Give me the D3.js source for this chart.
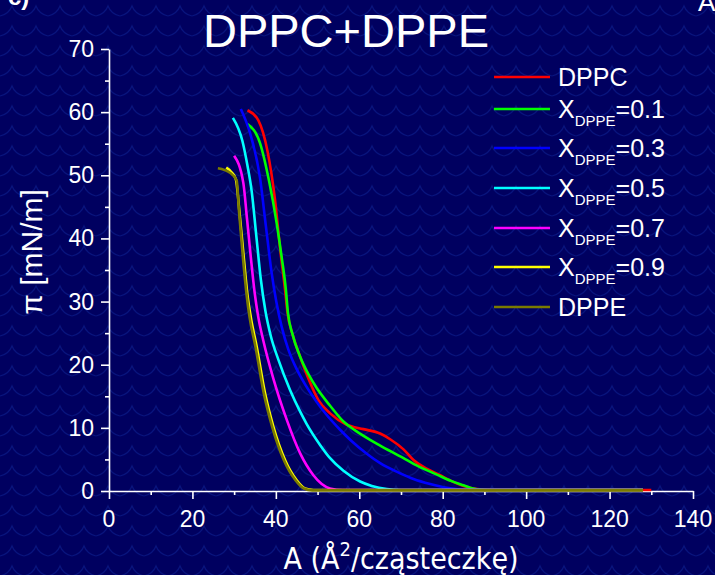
<!DOCTYPE html>
<html>
<head>
<meta charset="utf-8">
<script src="https://cdn.jsdelivr.net/npm/d3@7"></script>
<style>
  html, body { margin: 0; padding: 0; background: #000060; }
  svg { display: block; }
</style>
</head>
<body>
<svg id="chart" width="715" height="575"></svg>
<script>
// Surface pressure isotherms (π vs area per molecule) for DPPC/DPPE mixtures
const xTicks = [0, 20, 40, 60, 80, 100, 120, 140];
const yTicks = [0, 10, 20, 30, 40, 50, 60, 70];

const seriesNames = ["DPPC", "0.1", "0.3", "0.5", "0.7", "0.9", "DPPE"];
const seriesColors = ["#ff0000", "#00ff00", "#0000ff", "#00ffff", "#ff00ff", "#ffff00", "#7a7a00"];

// [A (Å²/molecule), π (mN/m)]
const dppc = [[33.2,60.3],[35.8,58.7],[38.0,53.8],[39.8,46.1],[41.0,38.5],[42.2,31.9],[42.8,28.2],[44.0,24.8],[45.8,21.3],[48.0,17.5],[50.2,14.4],[53.0,12.3],[57.0,10.5],[61.0,9.8],[65.0,9.1],[67.4,8.2],[70.6,6.6],[73.0,4.9],[76.0,3.6],[79.4,2.5],[82.0,1.6],[85.0,0.8],[88.2,0.3],[92.0,0.15],[130.0,0.15]];
const x01 = [[33.2,58.1],[36.2,55.1],[38.4,49.0],[40.2,42.4],[41.4,37.0],[42.4,31.9],[42.9,28.2],[44.0,24.8],[45.8,21.3],[47.8,18.5],[49.8,16.3],[53.0,13.5],[56.2,11.0],[59.0,9.6],[62.6,8.1],[65.0,7.2],[70.6,5.2],[73.0,4.3],[78.6,2.6],[82.0,1.6],[85.0,0.9],[87.0,0.45],[89.7,0.2],[92.0,0.15],[128.0,0.15]];
const x03 = [[31.6,60.5],[33.8,56.7],[36.2,49.6],[37.6,42.0],[39.0,34.5],[40.1,30.0],[41.4,26.0],[43.0,22.4],[45.0,19.3],[47.0,16.9],[49.8,14.1],[52.0,12.2],[55.4,9.7],[58.0,8.0],[61.8,5.9],[65.0,4.4],[69.8,2.8],[73.0,1.9],[77.0,1.1],[81.0,0.5],[86.0,0.2],[128.0,0.15]];
const x05 = [[29.7,59.1],[32.0,55.4],[33.2,51.5],[34.2,47.5],[35.3,40.5],[36.4,33.5],[37.5,28.5],[38.8,24.5],[40.6,20.8],[43.4,16.0],[45.8,12.6],[47.4,10.6],[50.6,7.3],[53.0,5.2],[56.2,3.2],[60.2,1.5],[63.0,0.8],[66.6,0.3],[70.0,0.15],[128.0,0.15]];
const x07 = [[30.0,53.1],[32.2,48.8],[33.1,43.0],[34.0,37.0],[34.9,31.5],[35.8,27.5],[37.0,23.8],[39.4,17.8],[42.6,11.3],[45.8,6.0],[49.0,2.5],[51.0,1.1],[53.0,0.4],[56.0,0.15],[128.0,0.15]];
const x09 = [[28.1,51.2],[29.2,50.6],[30.4,49.4],[31.3,44.0],[32.3,37.0],[33.2,31.0],[34.0,27.5],[35.4,22.9],[37.4,15.5],[39.4,10.2],[42.2,4.9],[45.0,1.7],[47.0,0.4],[49.0,0.15],[128.0,0.15]];
const dppe = [[26.1,51.1],[29.0,50.4],[30.6,49.2],[31.2,44.0],[32.1,37.0],[33.0,31.0],[33.7,27.5],[35.1,22.9],[37.1,15.5],[39.1,10.2],[41.9,4.9],[44.7,1.7],[46.7,0.4],[48.7,0.1],[128.0,0.1]];

const seriesData = [dppc, x01, x03, x05, x07, x09, dppe];

const svg = d3.select("#chart");
const W = 715, H = 575;

// Background with a faint scalloped texture
const defs = svg.append("defs");
const pat = defs.append("pattern")
  .attr("id", "scales").attr("patternUnits", "userSpaceOnUse")
  .attr("width", 24).attr("height", 20);
pat.append("rect").attr("width", 24).attr("height", 20).attr("fill", "#000060");
pat.append("path")
  .attr("d", "M0,16 Q9,14 12,6 Q15,14 24,16")
  .attr("fill", "none").attr("stroke", "#08147e").attr("stroke-width", 1.2);
svg.append("rect").attr("width", W).attr("height", H).attr("fill", "url(#scales)");

const x = d3.scaleLinear().domain([0, 140]).range([109, 693]);
const y = d3.scaleLinear().domain([0, 70]).range([491, 49]);

const font = "'Liberation Sans', Arial, sans-serif";

// Axes
const xAxis = svg.append("g").attr("transform", `translate(0,${y(0)})`)
  .call(d3.axisBottom(x).tickValues(d3.range(0, 141, 10)).tickSize(0).tickFormat(""));
const yAxis = svg.append("g").attr("transform", `translate(${x(0)},0)`)
  .call(d3.axisLeft(y).tickValues(d3.range(0, 71, 5)).tickSize(0).tickFormat(""));
[xAxis, yAxis].forEach(g => {
  g.select(".domain").attr("stroke", "#ffffff").attr("stroke-width", 1.6);
});
xAxis.selectAll(".tick line")
  .attr("y2", d => (d % 20 === 0 ? 8 : 4))
  .attr("stroke", "#ffffff").attr("stroke-width", 1.6);
yAxis.selectAll(".tick line")
  .attr("x2", d => (d % 10 === 0 ? -8 : -4))
  .attr("stroke", "#ffffff").attr("stroke-width", 1.6);

svg.append("g").selectAll("text").data(xTicks).join("text")
  .attr("x", d => x(d)).attr("y", y(0) + 36)
  .attr("text-anchor", "middle")
  .attr("fill", "#ffffff").attr("font-family", font).attr("font-size", 23)
  .text(d => d);
svg.append("g").selectAll("text").data(yTicks).join("text")
  .attr("x", x(0) - 15).attr("y", d => y(d) + 8)
  .attr("text-anchor", "end")
  .attr("fill", "#ffffff").attr("font-family", font).attr("font-size", 23)
  .text(d => d);

// Curves
const line = d3.line().x(d => x(d[0])).y(d => y(d[1])).curve(d3.curveMonotoneX);
svg.append("g").selectAll("path").data(seriesData).join("path")
  .attr("d", line)
  .attr("fill", "none")
  .attr("stroke", (d, i) => seriesColors[i])
  .attr("stroke-width", 2.6)
  .attr("stroke-linejoin", "round");

// Title
svg.append("text").attr("x", 346).attr("y", 47)
  .attr("text-anchor", "middle").attr("fill", "#ffffff")
  .attr("font-family", font).attr("font-size", 47)
  .text("DPPC+DPPE");

// Axis titles
const xt = svg.append("text").attr("x", 401).attr("y", 569)
  .attr("text-anchor", "middle").attr("fill", "#ffffff")
  .attr("font-family", "'DejaVu Sans', sans-serif").attr("font-stretch", "condensed")
  .attr("font-size", 30);
xt.append("tspan").text("A (Å");
xt.append("tspan").attr("font-size", 20).attr("dy", -13).text("2");
xt.append("tspan").attr("dy", 13).text("/cząsteczkę)");

svg.append("text")
  .attr("transform", `translate(42,252) rotate(-90)`)
  .attr("text-anchor", "middle").attr("fill", "#ffffff")
  .attr("font-family", font).attr("font-size", 30)
  .text("π [mN/m]");

// Legend
const legend = svg.append("g");
const rowY = [77, 109, 148, 188, 228, 267, 307];
seriesNames.forEach((name, i) => {
  legend.append("line")
    .attr("x1", 494).attr("x2", 550).attr("y1", rowY[i]).attr("y2", rowY[i])
    .attr("stroke", seriesColors[i]).attr("stroke-width", 2.6);
  const t = legend.append("text").attr("x", 558).attr("y", rowY[i] + 9)
    .attr("fill", "#ffffff").attr("font-family", font).attr("font-size", 25);
  if (name === "DPPC" || name === "DPPE") {
    t.text(name);
  } else {
    t.append("tspan").text("X");
    t.append("tspan").attr("font-size", 15).attr("dy", 8).text("DPPE");
    t.append("tspan").attr("dy", -8).text("=" + name);
  }
});

// Panel labels at the page edge
svg.append("text").attr("x", 8).attr("y", 5).attr("fill", "#ffffff")
  .attr("font-family", font).attr("font-weight", "bold").attr("font-size", 24).text("c)");
svg.append("text").attr("x", 698).attr("y", 11).attr("fill", "#ffffff")
  .attr("font-family", font).attr("font-size", 26).text("A");
</script>
</body>
</html>
